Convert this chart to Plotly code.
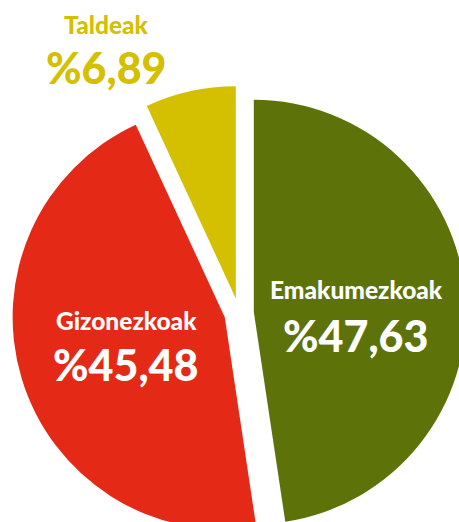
import plotly.graph_objects as go

# ---- data ----
labels = ["Emakumezkoak", "Gizonezkoak", "Taldeak"]
values = [47.63, 45.48, 6.89]
value_text = ["%47,63", "%45,48", "%6,89"]

# ---- styles ----
colors = ["#5E720A", "#E42A17", "#D4C000"]
text_colors = ["white", "white", "#D4C000"]
pull = 0.07
FONT = "Lato"
NAME_SIZE = 24.5
VALUE_SIZE = 43

W, H = 466, 540
ML, MT, MR, MB = 12, 86, 0, 0
PW, PH = W - ML - MR, H - MT - MB

# label anchor pixel positions (name line, value line)
label_px = [((356, 289), (355.5, 335)),
            ((126.5, 320), (126, 364.5)),
            ((106, 24), (106.5, 67.5))]

fig = go.Figure(go.Pie(
    labels=labels,
    values=values,
    sort=False,
    direction="clockwise",
    rotation=0,
    pull=[pull] * len(values),
    marker=dict(colors=colors, line=dict(width=0)),
    textinfo="none",
    hoverinfo="label+percent",
    showlegend=False,
    domain=dict(x=[0, 1], y=[0, 1]),
))

def fx(px):
    return (px - ML) / PW

def fy(py):
    return 1 - (py - MT) / PH

annotations = []
for i, lab in enumerate(labels):
    (nx, ny), (vx, vy) = label_px[i]
    annotations.append(dict(
        text=lab, x=fx(nx), y=fy(ny), xref="paper", yref="paper",
        xanchor="center", yanchor="middle", showarrow=False,
        font=dict(family=FONT, size=NAME_SIZE, color=text_colors[i], weight=900),
    ))
    annotations.append(dict(
        text=value_text[i], x=fx(vx), y=fy(vy), xref="paper", yref="paper",
        xanchor="center", yanchor="middle", showarrow=False,
        font=dict(family=FONT, size=VALUE_SIZE, color=text_colors[i], weight=900),
    ))

fig.update_layout(
    width=W, height=H,
    margin=dict(l=ML, r=MR, t=MT, b=MB, autoexpand=False),
    paper_bgcolor="white",
    plot_bgcolor="white",
    annotations=annotations,
)

fig.write_html(
    "out.html",
    config={"displayModeBar": False},
    post_script="document.body.style.margin='0';document.body.style.overflow='hidden';",
)
